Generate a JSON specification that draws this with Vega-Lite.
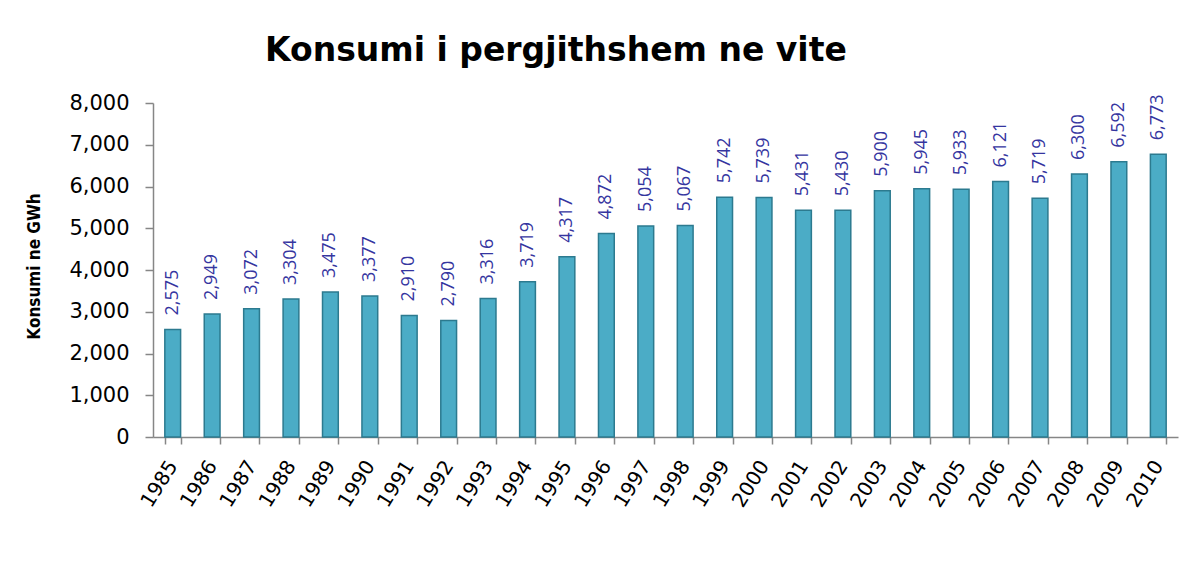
{
  "$schema": "https://vega.github.io/schema/vega-lite/v6.json",
  "width": 1025,
  "height": 334,
  "autosize": {"type": "none"},
  "padding": {"left": 153, "top": 103, "right": 25, "bottom": 137},
  "background": "white",
  "title": {
    "text": "Konsumi i pergjithshem ne vite",
    "anchor": "start",
    "frame": "group",
    "dx": 112,
    "baseline": "alphabetic",
    "offset": -2,
    "font": "DejaVu Sans",
    "fontSize": 33,
    "fontWeight": "bold",
    "color": "#000000"
  },
  "data": {
    "values": [
      {"year": "1985", "value": 2575},
      {"year": "1986", "value": 2949},
      {"year": "1987", "value": 3072},
      {"year": "1988", "value": 3304},
      {"year": "1989", "value": 3475},
      {"year": "1990", "value": 3377},
      {"year": "1991", "value": 2910},
      {"year": "1992", "value": 2790},
      {"year": "1993", "value": 3316},
      {"year": "1994", "value": 3719},
      {"year": "1995", "value": 4317},
      {"year": "1996", "value": 4872},
      {"year": "1997", "value": 5054},
      {"year": "1998", "value": 5067},
      {"year": "1999", "value": 5742},
      {"year": "2000", "value": 5739},
      {"year": "2001", "value": 5431},
      {"year": "2002", "value": 5430},
      {"year": "2003", "value": 5900},
      {"year": "2004", "value": 5945},
      {"year": "2005", "value": 5933},
      {"year": "2006", "value": 6121},
      {"year": "2007", "value": 5719},
      {"year": "2008", "value": 6300},
      {"year": "2009", "value": 6592},
      {"year": "2010", "value": 6773}
    ]
  },
  "encoding": {
    "x": {
      "field": "year",
      "type": "ordinal",
      "scale": {"paddingInner": 0.6, "paddingOuter": 0.3},
      "axis": {
        "title": null,
        "labelAngle": -58,
        "labelFont": "DejaVu Sans",
        "labelFontSize": 20,
        "labelColor": "#000000",
        "labelPadding": 18,
        "tickBand": "extent",
        "tickSize": 7,
        "tickColor": "#868686",
        "tickWidth": 1.5,
        "domainColor": "#868686",
        "domainWidth": 1.5
      }
    },
    "y": {
      "field": "value",
      "type": "quantitative",
      "scale": {"domain": [0, 8000], "nice": false},
      "axis": {
        "title": "Konsumi ne GWh",
        "titleFont": "DejaVu Sans Condensed",
        "titleFontSize": 17,
        "titleFontWeight": "bold",
        "titleColor": "#000000",
        "titleAngle": -90,
        "titleAlign": "center",
        "titleBaseline": "middle",
        "titleX": -119,
        "titleY": 163,
        "values": [0, 1000, 2000, 3000, 4000, 5000, 6000, 7000, 8000],
        "format": ",.0f",
        "labelFont": "DejaVu Sans",
        "labelFontSize": 21,
        "labelColor": "#000000",
        "labelPadding": 16,
        "grid": false,
        "tickSize": 8,
        "tickColor": "#868686",
        "tickWidth": 1.5,
        "domainColor": "#868686",
        "domainWidth": 1.5
      }
    }
  },
  "layer": [
    {
      "mark": {
        "type": "bar",
        "color": "#4BACC6",
        "stroke": "#2C7A8F",
        "strokeWidth": 1.5
      }
    },
    {
      "mark": {
        "type": "text",
        "angle": -90,
        "align": "left",
        "baseline": "middle",
        "dx": 14,
        "font": "Open Sans",
        "fontSize": 18,
        "color": "#35359F"
      },
      "encoding": {
        "text": {"field": "value", "type": "quantitative", "format": ",.0f"}
      }
    }
  ],
  "config": {
    "view": {"stroke": null}
  }
}
